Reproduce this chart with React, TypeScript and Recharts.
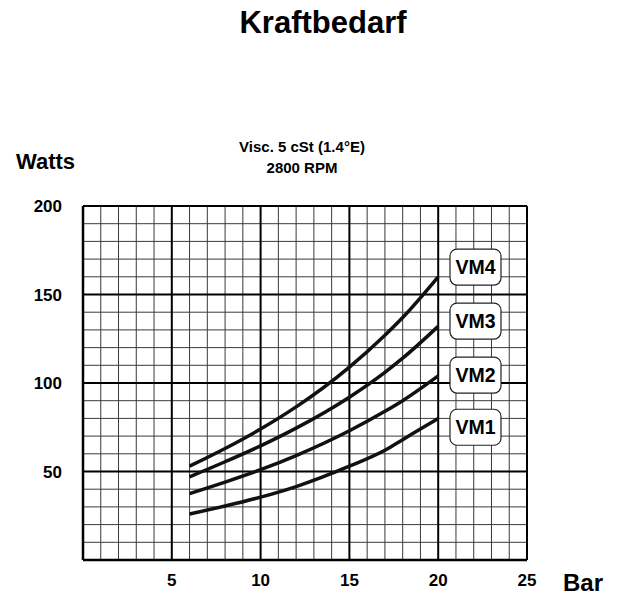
import {
  Customized,
  Line,
  LineChart,
  ReferenceDot,
  ReferenceLine,
  XAxis,
  YAxis,
} from "recharts";

const pressure = [6, 8, 10, 12, 15, 17, 18, 20];
const vm1 = [26, 30.5, 35.5, 41.5, 53, 62, 68, 80];
const vm2 = [37.5, 44, 51, 59, 73, 84, 90, 104];
const vm3 = [47, 55.5, 64.5, 74.5, 92, 106, 114, 132];
const vm4 = [53, 63, 74, 86.5, 109, 127, 137, 160];

const xTicks = [5, 10, 15, 20, 25];
const yTicks = [50, 100, 150, 200];
const xMinor = Array.from({ length: 24 }, (_, i) => i + 1).filter((v) => v % 5 !== 0);
const yMinor = Array.from({ length: 19 }, (_, i) => (i + 1) * 10).filter((v) => v % 50 !== 0);

const pumpLabels = ["VM4", "VM3", "VM2", "VM1"];
const labelY = [165.5, 135, 104.5, 75];
const labelX = 22.1;

const data = pressure.map((p, i) => ({
  bar: p,
  vm1: vm1[i],
  vm2: vm2[i],
  vm3: vm3[i],
  vm4: vm4[i],
}));

const font = '"Liberation Sans", Arial, Helvetica, sans-serif';
const tickStyle = { fontSize: 17, fontWeight: 700, fill: "#000", fontFamily: font };

function LabelBox(props: any) {
  const { cx, cy, text } = props;
  return (
    <g>
      <rect
        x={cx - 25.5}
        y={cy - 18}
        width={51}
        height={36}
        rx={7}
        fill="#fff"
        stroke="#222"
        strokeWidth={1.2}
      />
      <text
        x={cx}
        y={cy + 7}
        textAnchor="middle"
        fontSize={19.5}
        fontWeight={700}
        fontFamily={font}
        fill="#000"
      >
        {text}
      </text>
    </g>
  );
}

function Texts() {
  return (
    <g fontFamily={font} fontWeight={700} fill="#000">
      <text x={323} y={33} textAnchor="middle" fontSize={31}>
        Kraftbedarf
      </text>
      <text x={302} y={152} textAnchor="middle" fontSize={15}>
        Visc. 5 cSt (1.4°E)
      </text>
      <text x={302} y={173} textAnchor="middle" fontSize={15}>
        2800 RPM
      </text>
      <text x={16} y={169} fontSize={22}>
        Watts
      </text>
      <text x={563} y={591} fontSize={24}>
        Bar
      </text>
    </g>
  );
}

export default function App() {
  return (
    <div style={{ position: "absolute", left: 0, top: 0, background: "#fff" }}>
      <LineChart
        width={617}
        height={596}
        data={data}
        margin={{ top: 206, right: 90, left: 0, bottom: 0 }}
      >
        <XAxis
          dataKey="bar"
          type="number"
          domain={[0, 25]}
          ticks={xTicks}
          axisLine={false}
          tickLine={false}
          tickSize={0}
          tickMargin={14}
          height={36}
          tick={tickStyle}
          interval={0}
        />
        <YAxis
          type="number"
          domain={[0, 200]}
          ticks={yTicks}
          axisLine={false}
          tickLine={false}
          tickSize={0}
          tickMargin={21}
          width={83}
          tick={tickStyle}
          interval={0}
        />
        {xMinor.map((v) => (
          <ReferenceLine key={`xm${v}`} x={v} stroke="#3a3a3a" strokeWidth={1} />
        ))}
        {yMinor.map((v) => (
          <ReferenceLine key={`ym${v}`} y={v} stroke="#3a3a3a" strokeWidth={1} />
        ))}
        {xTicks.map((v) => (
          <ReferenceLine key={`xM${v}`} x={v} stroke="#000" strokeWidth={2} />
        ))}
        {yTicks.map((v) => (
          <ReferenceLine key={`yM${v}`} y={v} stroke="#000" strokeWidth={2} />
        ))}
        <ReferenceLine x={0} stroke="#000" strokeWidth={2.5} />
        <ReferenceLine y={0} stroke="#000" strokeWidth={2.5} />
        {(["vm1", "vm2", "vm3", "vm4"] as const).map((k) => (
          <Line
            key={k}
            dataKey={k}
            type="monotone"
            stroke="#111"
            strokeWidth={3.5}
            dot={false}
            isAnimationActive={false}
          />
        ))}
        {pumpLabels.map((name, i) => (
          <ReferenceDot
            key={name}
            x={labelX}
            y={labelY[i]}
            r={1}
            shape={(p: any) => <LabelBox {...p} text={name} />}
          />
        ))}
        <Customized component={Texts} />
      </LineChart>
    </div>
  );
}
